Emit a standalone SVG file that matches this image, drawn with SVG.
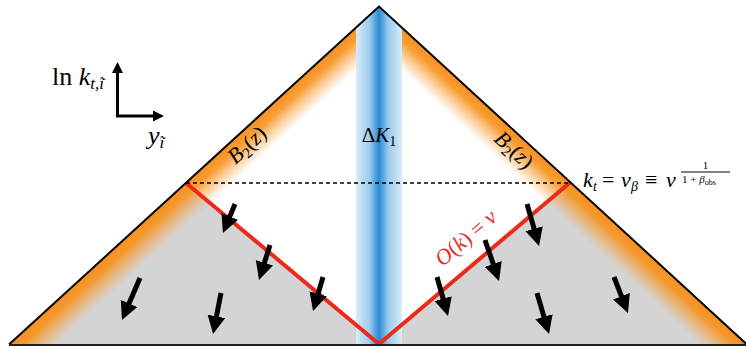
<svg xmlns="http://www.w3.org/2000/svg" width="746" height="346" viewBox="0 0 746 346">
<style>
.serif{font-family:"Liberation Serif","Times New Roman",serif;fill:#000}
.it{font-style:italic}
.arr{stroke:#000;stroke-width:5;fill:none;marker-end:url(#head)}
.red{fill:#ec2a1c}
</style>
<defs>
<clipPath id="tri"><polygon points="9,344.5 379,6.5 747,344.5"/></clipPath>
<linearGradient id="orL" gradientUnits="userSpaceOnUse" x1="194" y1="175.5" x2="215.6" y2="199.1">
<stop offset="0" stop-color="#f7901e" stop-opacity="1"/>
<stop offset="0.3" stop-color="#f7931f" stop-opacity="0.9"/>
<stop offset="1" stop-color="#f9a64a" stop-opacity="0"/>
</linearGradient>
<linearGradient id="orR" gradientUnits="userSpaceOnUse" x1="563" y1="175.5" x2="541.3" y2="199.1">
<stop offset="0" stop-color="#f7901e" stop-opacity="1"/>
<stop offset="0.3" stop-color="#f7931f" stop-opacity="0.9"/>
<stop offset="1" stop-color="#f9a64a" stop-opacity="0"/>
</linearGradient>
<linearGradient id="blue" gradientUnits="userSpaceOnUse" x1="356" y1="0" x2="402" y2="0">
<stop offset="0" stop-color="#dcecf8"/>
<stop offset="0.15" stop-color="#b8daf2"/>
<stop offset="0.3" stop-color="#9ccbed"/>
<stop offset="0.4" stop-color="#5faae0"/>
<stop offset="0.5" stop-color="#2a8ad2"/>
<stop offset="0.6" stop-color="#5faae0"/>
<stop offset="0.7" stop-color="#9ccbed"/>
<stop offset="0.85" stop-color="#b8daf2"/>
<stop offset="1" stop-color="#dcecf8"/>
</linearGradient>
<marker id="head" markerUnits="userSpaceOnUse" markerWidth="20" markerHeight="20" viewBox="0 0 20 20" refX="4" refY="10" orient="auto"><path d="M0,1 L18,10 L0,19 z" fill="#000"/></marker>
<marker id="ax" markerUnits="userSpaceOnUse" markerWidth="12" markerHeight="12" viewBox="0 0 12 12" refX="3" refY="6" orient="auto-start-reverse"><path d="M0,0.5 L11,6 L0,11.5 z" fill="#000"/></marker>
</defs>
<rect width="746" height="346" fill="#fff"/>
<g id="regions">
<polygon points="186,183 9,344.5 747,344.5 570,182.5 379,344" fill="#d4d4d4"/>
<polygon points="9,344.5 379,6.5 747,344.5" fill="url(#orL)"/>
<polygon points="9,344.5 379,6.5 747,344.5" fill="url(#orR)"/>
<rect x="356" y="0" width="46" height="346" fill="url(#blue)" clip-path="url(#tri)"/>
</g>
<g id="connectors">
<polyline points="186,183 379,344 570,182.5" fill="none" stroke="#ec2a1c" stroke-width="4"/>
<line x1="186" y1="183" x2="570" y2="183" stroke="#000" stroke-width="1.5" stroke-dasharray="4,3"/>
<polyline points="9,344.5 379,6.5 747,344.5" fill="none" stroke="#000" stroke-width="2"/>
<line x1="9" y1="345" x2="746" y2="345" stroke="#222" stroke-width="2"/>
<path d="M117.5,70 V116 H156" fill="none" stroke="#000" stroke-width="3" marker-start="url(#ax)" marker-end="url(#ax)"/>
</g>
<g id="arrows">
<line class="arr" x1="235" y1="204" x2="228.3" y2="220.1"/>
<line class="arr" x1="270" y1="245" x2="263.2" y2="266.6"/>
<line class="arr" x1="323" y1="277" x2="317" y2="297.6"/>
<line class="arr" x1="140" y1="278" x2="127.5" y2="307.1"/>
<line class="arr" x1="221" y1="293" x2="215.7" y2="320.3"/>
<line class="arr" x1="527" y1="204" x2="535.2" y2="232.5"/>
<line class="arr" x1="485" y1="240" x2="494.5" y2="267.7"/>
<line class="arr" x1="437" y1="277" x2="444.2" y2="302.5"/>
<line class="arr" x1="537" y1="293" x2="545.1" y2="320.6"/>
<line class="arr" x1="614" y1="277" x2="622.9" y2="299.9"/>
</g>
<g id="labels">
<text class="serif" x="52" y="84.5" font-size="26">ln <tspan class="it">k</tspan><tspan class="it" font-size="17" dy="4">t,ĩ</tspan></text>
<text class="serif it" x="148" y="144" font-size="26">y<tspan font-size="17" dy="4">ĩ</tspan></text>
<text class="serif" x="379" y="142" font-size="21" text-anchor="middle">Δ<tspan class="it">K</tspan><tspan font-size="14" dy="4">1</tspan></text>
<text class="serif" transform="translate(247,145) rotate(-42.4)" x="0" y="7" font-size="22" text-anchor="middle"><tspan class="it">B</tspan><tspan font-size="15" dy="4">2</tspan><tspan dy="-4">(</tspan><tspan class="it">z</tspan>)</text>
<text class="serif" transform="translate(514,150) rotate(42.6)" x="0" y="7" font-size="22" text-anchor="middle"><tspan class="it">B</tspan><tspan font-size="15" dy="4">2</tspan><tspan dy="-4">(</tspan><tspan class="it">z</tspan>)</text>
<text class="serif red" transform="translate(466,238) rotate(-40.5)" x="0" y="7" font-size="22" text-anchor="middle"><tspan class="it">O</tspan>(<tspan class="it">k</tspan>) = <tspan class="it">ν</tspan></text>
<text class="serif" font-size="22" y="187"><tspan class="it" x="583">k</tspan><tspan class="it" font-size="14" x="593" y="191">t</tspan><tspan x="602" y="187">=</tspan><tspan class="it" x="621">ν</tspan><tspan class="it" font-size="14" x="631" y="191">β</tspan><tspan x="645" y="187">≡</tspan><tspan class="it" x="666">ν</tspan></text>
<line x1="681" y1="172" x2="730" y2="172" stroke="#000" stroke-width="1"/>
<text class="serif" x="705.5" y="169" font-size="11" text-anchor="middle">1</text>
<text class="serif" x="682" y="183" font-size="11">1 + <tspan class="it">β</tspan><tspan font-size="8" dy="2">obs</tspan></text>
</g>
</svg>
